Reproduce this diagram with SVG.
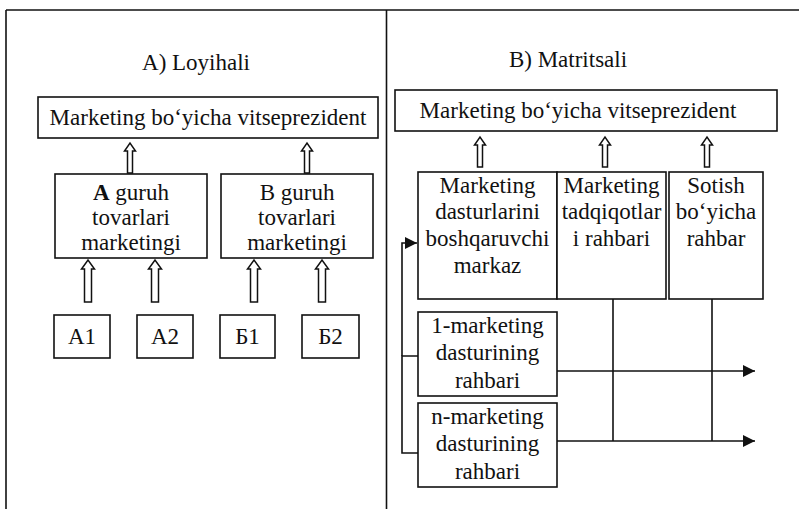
<svg xmlns="http://www.w3.org/2000/svg" width="799" height="509" viewBox="0 0 799 509" font-family="'Liberation Serif', 'Times New Roman', Tinos, 'DejaVu Serif', serif">
<style>
text{font-family:"Liberation Serif","Times New Roman",Tinos,"DejaVu Serif",serif;font-size:23px;fill:#111;text-anchor:middle}
.box{fill:#fff;stroke:#111;stroke-width:1.6}
.ln{fill:none;stroke:#111;stroke-width:1.6}
.ha{fill:#fff;stroke:#111;stroke-width:1.5;stroke-linejoin:miter}
</style>
<defs>
<marker id="ah" viewBox="0 0 10 10" refX="10" refY="5" markerWidth="16" markerHeight="12" markerUnits="userSpaceOnUse" orient="auto"><path d="M0,0 L10,5 L0,10 Z" fill="#111"/></marker>
<path id="sa" d="M-2.5,30 V8 H-5.5 L0,0 L5.5,8 H2.5 V30 Z"/>
<path id="la" d="M-3.5,42 V9 H-6.5 L0,0 L6.5,9 H3.5 V42 Z"/>
</defs>
<g id="frame" class="ln">
<line x1="6" y1="10" x2="799" y2="10"/>
<line x1="6" y1="10" x2="6" y2="509"/>
<line x1="386.5" y1="10" x2="386.5" y2="509"/>
</g>
<g id="titleA"><text x="196" y="70">A) Loyihali</text></g>
<g id="titleB"><text x="568" y="67">B) Matritsali</text></g>
<g id="vpA"><rect class="box" x="38" y="97" width="340" height="41"/><text x="208" y="125">Marketing boʻyicha vitseprezident</text></g>
<g id="grpA"><rect class="box" x="55" y="174" width="152" height="84"/><text x="131" y="200"><tspan font-weight="bold">A</tspan> guruh</text><text x="131" y="225">tovarlari</text><text x="131" y="250">marketingi</text></g>
<g id="grpB"><rect class="box" x="221" y="174" width="152" height="84"/><text x="297" y="200">B guruh</text><text x="297" y="225">tovarlari</text><text x="297" y="250">marketingi</text></g>
<g id="a1"><rect class="box" x="54" y="315" width="56" height="43"/><text x="82" y="344">A1</text></g>
<g id="a2"><rect class="box" x="137" y="315" width="56" height="43"/><text x="165" y="344">A2</text></g>
<g id="b1"><rect class="box" x="220" y="315" width="55" height="43"/><text x="247.5" y="344">Б1</text></g>
<g id="b2"><rect class="box" x="302" y="315" width="57" height="43"/><text x="330.5" y="344">Б2</text></g>
<g id="vpB"><rect class="box" x="395" y="90" width="382" height="41"/><text x="578" y="118">Marketing boʻyicha vitseprezident</text></g>
<g id="mdbm"><rect class="box" x="418" y="172" width="139" height="127"/><text x="487.5" y="193">Marketing</text><text x="487.5" y="219">dasturlarini</text><text x="487.5" y="246">boshqaruvchi</text><text x="487.5" y="273">markaz</text></g>
<g id="mtr"><rect class="box" x="557" y="172" width="109" height="127"/><text x="611.5" y="193">Marketing</text><text x="611.5" y="219">tadqiqotlar</text><text x="611.5" y="246">i rahbari</text></g>
<g id="sbr"><rect class="box" x="669" y="172" width="94" height="127"/><text x="716" y="193">Sotish</text><text x="716" y="219">boʻyicha</text><text x="716" y="246">rahbar</text></g>
<g id="p1"><rect class="box" x="418" y="312" width="139" height="84"/><text x="487.5" y="333">1-marketing</text><text x="487.5" y="360">dasturining</text><text x="487.5" y="388">rahbari</text></g>
<g id="pn"><rect class="box" x="418" y="403" width="139" height="84"/><text x="487.5" y="424">n-marketing</text><text x="487.5" y="451">dasturining</text><text x="487.5" y="479">rahbari</text></g>
<g id="connectors">
<use href="#sa" class="ha" x="130" y="143"/>
<use href="#sa" class="ha" x="307" y="143"/>
<use href="#la" class="ha" x="88" y="260"/>
<use href="#la" class="ha" x="155" y="260"/>
<use href="#la" class="ha" x="254" y="260"/>
<use href="#la" class="ha" x="322" y="260"/>
<use href="#sa" class="ha" x="480" y="137"/>
<use href="#sa" class="ha" x="605" y="137"/>
<use href="#sa" class="ha" x="707" y="137"/>
<path class="ln" d="M418,356 H402 V453 H418"/>
<path class="ln" d="M402,356 V243 H417" marker-end="url(#ah)"/>
<line class="ln" x1="613" y1="299" x2="613" y2="441"/>
<line class="ln" x1="712" y1="299" x2="712" y2="441"/>
<line class="ln" x1="557" y1="371" x2="755" y2="371" marker-end="url(#ah)"/>
<line class="ln" x1="557" y1="441" x2="755" y2="441" marker-end="url(#ah)"/>
</g>
</svg>
